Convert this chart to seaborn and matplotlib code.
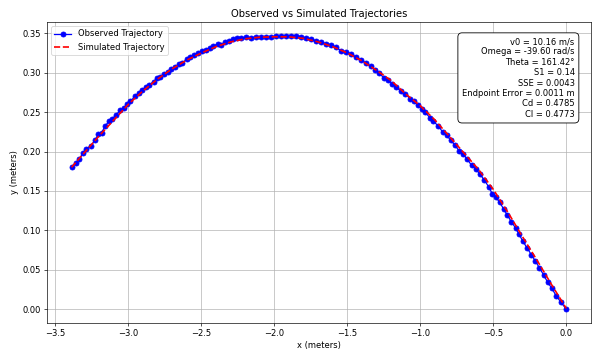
import matplotlib
matplotlib.use("Agg")
import matplotlib.pyplot as plt
import seaborn as sns
import pandas as pd

obs_x = [-3.388, -3.361, -3.338, -3.310, -3.288, -3.259, -3.229, -3.206, -3.184, -3.161,
         -3.134, -3.111, -3.084, -3.055, -3.031, -3.008, -2.986, -2.957, -2.929, -2.907,
         -2.880, -2.857, -2.827, -2.805, -2.782, -2.759, -2.730, -2.707, -2.680, -2.653,
         -2.630, -2.600, -2.578, -2.548, -2.521, -2.498, -2.471, -2.442, -2.419, -2.389,
         -2.367, -2.340, -2.312, -2.283, -2.253, -2.226, -2.192, -2.158, -2.124, -2.090,
         -2.056, -2.022, -1.988, -1.954, -1.920, -1.886, -1.852, -1.818, -1.784, -1.750,
         -1.715, -1.681, -1.647, -1.613, -1.579, -1.545, -1.511, -1.477, -1.443, -1.409,
         -1.375, -1.341, -1.310, -1.280, -1.250, -1.223, -1.194, -1.164, -1.132, -1.103,
         -1.069, -1.046, -1.019, -0.989, -0.967, -0.933, -0.910, -0.876, -0.846, -0.819,
         -0.792, -0.762, -0.733, -0.706, -0.679, -0.649, -0.619, -0.592, -0.562, -0.529,
         -0.506, -0.483, -0.456, -0.429, -0.404, -0.377, -0.347, -0.325, -0.297, -0.268,
         -0.240, -0.211, -0.184, -0.154, -0.127, -0.098, -0.070, -0.036, 0.000]
obs_y = [0.1805, 0.1860, 0.1900, 0.1986, 0.2036, 0.2070, 0.2145, 0.2217, 0.2238, 0.2320,
         0.2384, 0.2414, 0.2469, 0.2523, 0.2553, 0.2600, 0.2636, 0.2700, 0.2740, 0.2780,
         0.2817, 0.2846, 0.2888, 0.2930, 0.2950, 0.2985, 0.3014, 0.3044, 0.3077, 0.3107,
         0.3127, 0.3170, 0.3195, 0.3224, 0.3245, 0.3270, 0.3290, 0.3315, 0.3340, 0.3360,
         0.3350, 0.3385, 0.3405, 0.3425, 0.3438, 0.3442, 0.3448, 0.3446, 0.3452, 0.3455,
         0.3458, 0.3456, 0.3462, 0.3460, 0.3463, 0.3467, 0.3470, 0.3458, 0.3440, 0.3430,
         0.3402, 0.3384, 0.3368, 0.3355, 0.3325, 0.3280, 0.3262, 0.3240, 0.3200, 0.3165,
         0.3125, 0.3085, 0.3040, 0.2990, 0.2935, 0.2905, 0.2859, 0.2817, 0.2762, 0.2733,
         0.2666, 0.2636, 0.2594, 0.2540, 0.2497, 0.2427, 0.2384, 0.2321, 0.2246, 0.2204,
         0.2145, 0.2078, 0.2006, 0.1965, 0.1902, 0.1826, 0.1776, 0.1713, 0.1640, 0.1545,
         0.1460, 0.1420, 0.1356, 0.1270, 0.1196, 0.1110, 0.1030, 0.0957, 0.0860, 0.0777,
         0.0693, 0.0609, 0.0525, 0.0432, 0.0340, 0.0264, 0.0172, 0.0088, 0.0000]

sim_x = [-3.39, -3.3, -3.2, -3.1, -3.0, -2.9, -2.8, -2.7, -2.6, -2.5, -2.4, -2.3,
         -2.2, -2.1, -2.0, -1.9, -1.8, -1.7, -1.6, -1.5, -1.4, -1.3, -1.2, -1.1,
         -1.0, -0.9, -0.8, -0.7, -0.6, -0.5, -0.4, -0.3, -0.2, -0.1, 0.0]
sim_y = [0.180, 0.199, 0.220, 0.240, 0.260, 0.277, 0.292, 0.305, 0.316, 0.325, 0.333, 0.339,
         0.343, 0.345, 0.3455, 0.3455, 0.3435, 0.339, 0.333, 0.325, 0.315, 0.303, 0.290, 0.273,
         0.258, 0.240, 0.219, 0.198, 0.177, 0.152, 0.123, 0.092, 0.062, 0.031, 0.001]

info_lines = ["v0 = 10.16 m/s", "Omega = -39.60 rad/s", "Theta = 161.42°", "S1 = 0.14",
              "SSE = 0.0043", "Endpoint Error = 0.0011 m", "Cd = 0.4785", "Cl = 0.4773"]

obs_df = pd.DataFrame({"x": obs_x, "y": obs_y})
sim_df = pd.DataFrame({"x": sim_x, "y": sim_y})

fig, ax = plt.subplots(figsize=(10, 6), dpi=60)
sns.lineplot(data=obs_df, x="x", y="y", sort=False, ax=ax, color="blue", marker="o",
             markersize=6, markeredgecolor="blue", markeredgewidth=1, linewidth=1.5,
             label="Observed Trajectory")
sns.lineplot(data=sim_df, x="x", y="y", sort=False, ax=ax, color="red", linestyle="--",
             linewidth=2, label="Simulated Trajectory")

ax.set_title("Observed vs Simulated Trajectories")
ax.set_xlabel("x (meters)")
ax.set_ylabel("y (meters)")
ax.grid(True)
ax.legend(loc="upper left")
ax.text(0.97, 0.95, "\n".join(info_lines), transform=ax.transAxes, ha="right", va="top",
        fontsize=10, bbox=dict(boxstyle="round,pad=0.5", facecolor="white", edgecolor="black"))

fig.subplots_adjust(left=0.078, right=0.985, top=0.939, bottom=0.103)
fig.savefig("out.png", dpi=60)
